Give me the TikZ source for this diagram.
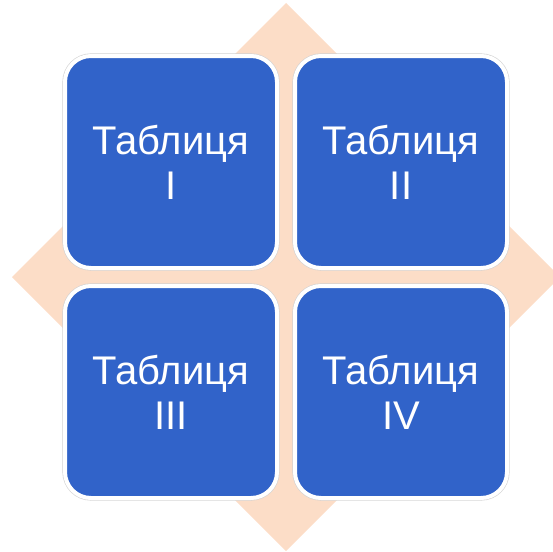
\documentclass[tikz,border=0pt]{standalone}
\usepackage{fontspec}
\setmainfont{Liberation Sans}
\definecolor{boxblue}{RGB}{49,99,201}
\definecolor{peach}{RGB}{252,221,199}
\tikzset{
  tile/.style={fill=boxblue, draw=white, line width=4pt, rounded corners=26pt,
    minimum width=212pt, minimum height=212pt, inner sep=0pt,
    preaction={draw=gray!35, line width=5.2pt},
    text=white, font=\fontsize{40}{45}\selectfont, align=center},
  backdiamond/.style={fill=peach, draw=none}
}
\begin{document}
\begin{tikzpicture}[x=1pt,y=-1pt]
\useasboundingbox (0,0) rectangle (553,551);
\clip (0,0) rectangle (553,551);
\coordinate (dt) at (286,3);
\coordinate (dr) at (560,277);
\coordinate (db) at (286,551);
\coordinate (dl) at (12,277);
\fill[backdiamond] (dt) -- (dr) -- (db) -- (dl) -- cycle;
\node[tile] (t1) at (171,162) {Таблиця\\I};
\node[tile] (t2) at (401,162) {Таблиця\\II};
\node[tile] (t3) at (171,392) {Таблиця\\III};
\node[tile] (t4) at (401,392) {Таблиця\\IV};
\end{tikzpicture}
\end{document}
